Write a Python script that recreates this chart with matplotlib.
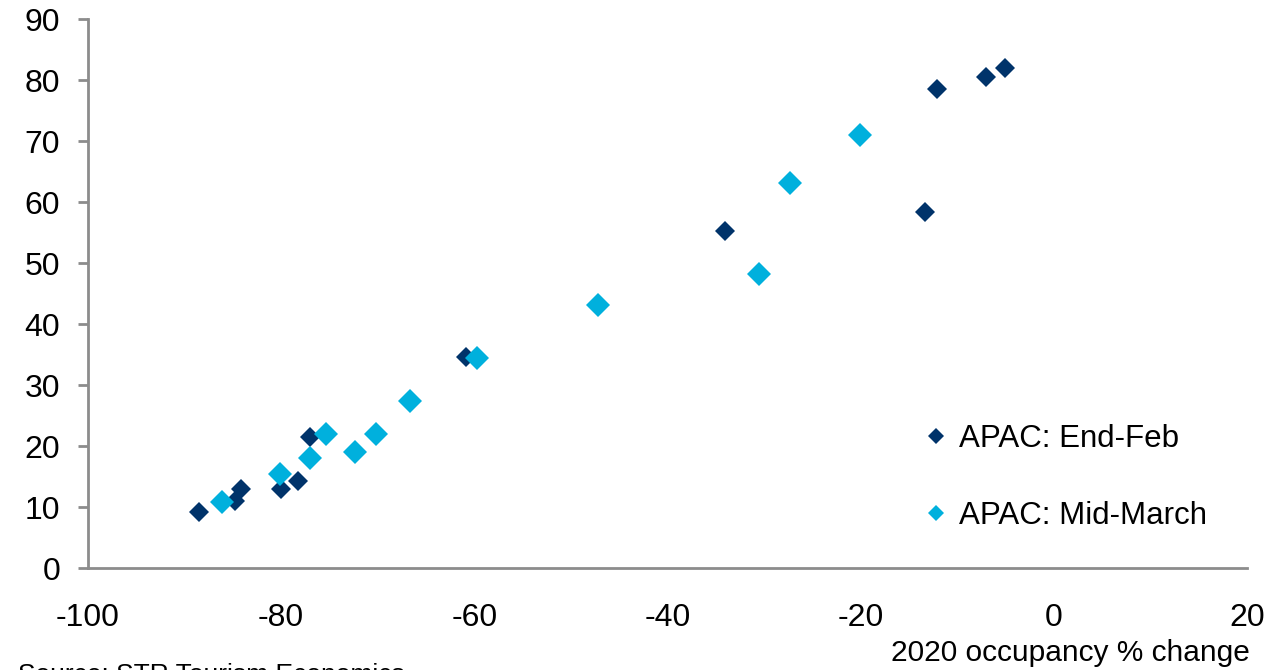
import matplotlib.pyplot as plt

plt.rcParams["font.family"] = ["Liberation Sans", "DejaVu Sans"]
plt.rcParams["axes.unicode_minus"] = False

# APAC: End-Feb
feb_x = [-88.5, -84.8, -84.2, -80.0, -78.2, -77.0, -60.9, -34.0, -13.3, -12.1, -7.0, -5.0]
feb_y = [9.2, 11.0, 12.9, 12.9, 14.3, 21.5, 34.6, 55.2, 58.4, 78.5, 80.5, 82.0]

# APAC: Mid-March
mar_x = [-86.1, -80.1, -77.0, -75.3, -72.3, -70.2, -66.7, -59.7, -47.2, -30.5, -27.3, -20.0]
mar_y = [10.8, 15.4, 18.0, 22.0, 19.0, 22.0, 27.4, 34.4, 43.1, 48.2, 63.1, 71.0]

x_ticks = [-100, -80, -60, -40, -20, 0, 20]
y_ticks = [0, 10, 20, 30, 40, 50, 60, 70, 80, 90]

navy = "#00336A"
cyan = "#00B0DD"
axis_grey = "#8C8C8C"

fig = plt.figure(figsize=(12.84, 6.7), dpi=100)
ax = fig.add_axes([0.0685, 0.152, 0.9025, 0.8195])

ax.plot(feb_x, feb_y, "D", color=navy, markersize=10, markeredgewidth=0,
        linestyle="none", label="APAC: End-Feb")
ax.plot(mar_x, mar_y, "D", color=cyan, markersize=12, markeredgewidth=0,
        linestyle="none", label="APAC: Mid-March")

ax.set_xlim(-100, 20)
ax.set_ylim(0, 90)
ax.set_xticks(x_ticks)
ax.set_yticks(y_ticks)

for s in ["top", "right"]:
    ax.spines[s].set_visible(False)
for s in ["left", "bottom"]:
    ax.spines[s].set_color(axis_grey)
    ax.spines[s].set_linewidth(2)

ax.tick_params(axis="y", direction="out", length=7, width=2, color=axis_grey,
               labelsize=23, pad=13)
ax.tick_params(axis="x", length=0, labelsize=23, pad=25)

leg = ax.legend(loc="upper left", bbox_to_anchor=(0.713, 0.285), frameon=False,
                fontsize=22.5, handlelength=0.6, handletextpad=0.45,
                labelspacing=1.5, borderaxespad=0)
for h in leg.legend_handles:
    h.set_markersize(8.5)

fig.text(0.9735, 0.025, "2020 occupancy % change", ha="right", va="center",
         fontsize=21.5)
fig.text(0.014, 0.01, "Source: STR Tourism Economics", ha="left", va="top",
         fontsize=19)

fig.savefig("out.png", dpi=100)
